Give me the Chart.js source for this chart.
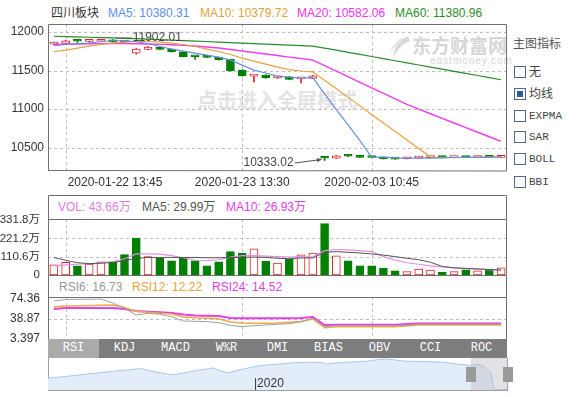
<!DOCTYPE html>
<html>
<head>
<meta charset="utf-8">
<title>四川板块</title>
<script src="https://cdn.jsdelivr.net/npm/chart.js@4.4.1/dist/chart.umd.min.js"></script>
<style>
  body { margin: 0; width: 577px; height: 397px; position: relative; overflow: hidden; background: #fff;
         font-family: "Liberation Sans", Arial, "Noto Sans CJK SC", sans-serif; font-size: 12px; color: #333; }
  .t { position: absolute; white-space: nowrap; line-height: 16px; }
  canvas { position: absolute; }
  .mono { font-family: "Liberation Mono", "Noto Sans CJK SC", monospace; font-size: 11px; }
  .wm { position: absolute; white-space: nowrap; color: #e3e3e3; font-weight: bold; font-family: "Noto Sans CJK SC", sans-serif; }
  #tabs { position: absolute; left: 48px; top: 339px; width: 459px; height: 19px; background: #7d7d7d; display: flex; }
  #tabs div { flex: 1; color: #fff; text-align: center; line-height: 19px; font-size: 12px; }
  #tabs div.on { background: #ababab; }
  .box { position: absolute; width: 10px; height: 10px; border: 1px solid #51688c; background: #fff; }
  .box.on::after { content: ""; position: absolute; left: 2px; top: 2px; width: 6px; height: 6px; background: #2e5a9c; }
</style>
</head>
<body>

<!-- WATERMARKS -->
<div class="wm" style="left:197px;top:88px;font-size:20px;line-height:24px;">点击进入全屏模式</div>
<svg style="position:absolute;left:388px;top:34px;" width="24" height="26" viewBox="0 0 24 26">
  <path d="M20 2 C 12 6, 6 13, 5 24 C 9 16, 14 10, 22 7 Z" fill="#d8d8d8"/>
  <path d="M14 4 C 8 8, 3 13, 2 20 C 5 14, 9 10, 16 6 Z" fill="#e2e2e2"/>
</svg>
<div class="wm" style="left:412px;top:34px;font-size:19px;line-height:22px;color:#d6d6d6;">东方财富网</div>
<div class="t" style="left:430px;top:53px;font-size:10px;color:#d4d4d4;letter-spacing:1px;">eastmoney.com</div>

<!-- LEGENDS -->
<div class="t" style="left:51px;top:5px;color:#333;">四川板块</div>
<div class="t" style="left:108px;top:5px;color:#5b8def;">MA5: 10380.31</div>
<div class="t" style="left:200px;top:5px;color:#e0a33a;">MA10: 10379.72</div>
<div class="t" style="left:297px;top:5px;color:#ee33ee;">MA20: 10582.06</div>
<div class="t" style="left:395px;top:5px;color:#2e8b2e;">MA60: 11380.96</div>

<div class="t" style="left:58px;top:199px;color:#e07be0;">VOL: 43.66万</div>
<div class="t" style="left:142px;top:199px;color:#555;">MA5: 29.99万</div>
<div class="t" style="left:226px;top:199px;color:#e040e0;">MA10: 26.93万</div>

<div class="t" style="left:59px;top:279px;color:#999;">RSI6: 16.73</div>
<div class="t" style="left:132px;top:279px;color:#e6a23c;">RSI12: 12.22</div>
<div class="t" style="left:212px;top:279px;color:#e040e0;">RSI24: 14.52</div>

<!-- SIDE PANEL -->
<div class="t" style="left:513px;top:36px;color:#555;">主图指标</div>
<div id="side"></div>

<!-- CANVASES -->
<canvas id="mainChart" width="510" height="195" style="left:0;top:0;"></canvas>
<canvas id="volChart" width="510" height="86" style="left:0;top:195px;"></canvas>
<canvas id="rsiChart" width="510" height="72" style="left:0;top:275px;"></canvas>

<div id="tabs" class="mono"></div>

<div style="position:absolute;left:48px;top:358px;width:460px;height:33px;box-sizing:border-box;border:1px solid #a0a0a0;border-top:none;"></div>
<canvas id="navChart" width="459" height="32" style="left:48px;top:358px;"></canvas>
<div style="position:absolute;left:471px;top:358px;width:36px;height:32px;background:rgba(190,190,200,0.45);"></div>
<div style="position:absolute;left:466px;top:367px;width:10px;height:15px;background:#9a9a9a;"></div>
<div style="position:absolute;left:503px;top:367px;width:10px;height:15px;background:#9a9a9a;"></div>
<div class="t" style="left:254px;top:375px;color:#333;">|2020</div>

<script>
// DATA

const times = [
  "2020-01-22 13:30", "2020-01-22 13:45", "2020-01-22 14:00", "2020-01-22 14:15", "2020-01-22 14:30",
  "2020-01-22 14:45", "2020-01-22 15:00", "2020-01-23 09:45", "2020-01-23 10:00", "2020-01-23 10:15",
  "2020-01-23 10:30", "2020-01-23 10:45", "2020-01-23 11:00", "2020-01-23 11:15", "2020-01-23 11:30",
  "2020-01-23 13:15", "2020-01-23 13:30", "2020-01-23 13:45", "2020-01-23 14:00", "2020-01-23 14:15",
  "2020-01-23 14:30", "2020-01-23 14:45", "2020-01-23 15:00", "2020-02-03 09:45", "2020-02-03 10:00",
  "2020-02-03 10:15", "2020-02-03 10:30", "2020-02-03 10:45", "2020-02-03 11:00", "2020-02-03 11:15",
  "2020-02-03 11:30", "2020-02-03 13:15", "2020-02-03 13:30", "2020-02-03 13:45", "2020-02-03 14:00",
  "2020-02-03 14:15", "2020-02-03 14:30", "2020-02-03 14:45", "2020-02-03 15:00"
];

const openP  = [11843, 11853, 11885, 11878, 11880, 11895, 11878, 11727, 11775, 11805, 11779, 11744, 11683, 11692, 11671, 11645, 11506, 11428, 11441, 11405, 11420, 11392, 11398, 10375, 10362, 10392, 10390, 10380, 10372, 10362, 10356, 10364, 10370, 10376, 10370, 10377, 10372, 10378, 10374];
const highP  = [11870, 11895, 11890, 11892, 11899, 11902.01, 11885, 11785, 11810, 11808, 11782, 11746, 11686, 11698, 11675, 11648, 11510, 11436, 11445, 11418, 11424, 11400, 11438, 10380, 10398, 10400, 10393, 10383, 10375, 10366, 10368, 10376, 10380, 10379, 10381, 10380, 10382, 10381, 10385];
const lowP   = [11835, 11848, 11865, 11868, 11876, 11868, 11862, 11712, 11770, 11770, 11740, 11676, 11645, 11668, 11636, 11490, 11428, 11352, 11400, 11398, 11380, 11340, 11395, 10333.02, 10358, 10384, 10370, 10368, 10352, 10348, 10353, 10360, 10366, 10366, 10367, 10368, 10369, 10370, 10371];
const closeP = [11858, 11887, 11880, 11884, 11896, 11872, 11870, 11779, 11805, 11775, 11744, 11680, 11679, 11671, 11640, 11497, 11432, 11434, 11406, 11412, 11386, 11398, 11432, 10362, 10394, 10388, 10374, 10372, 10356, 10352, 10364, 10372, 10376, 10370, 10377, 10372, 10378, 10374, 10381];

const ma5  = [11822, 11838, 11851, 11857, 11877, 11887, 11890, 11874, 11851, 11812, 11779, 11753, 11727, 11701, 11675, 11636, 11571, 11506, 11468, 11429, 11416, 11403, 11409, 11198, 10994, 10795, 10590, 10378, 10377, 10368, 10364, 10363, 10364, 10367, 10372, 10373, 10375, 10376, 10380.31];
const ma10 = [11744, 11766, 11792, 11818, 11838, 11857, 11870, 11877, 11877, 11870, 11857, 11838, 11812, 11779, 11747, 11708, 11662, 11623, 11584, 11545, 11513, 11494, 11484, 11373, 11263, 11152, 11042, 10931, 10820, 10710, 10599, 10489, 10378, 10372, 10373, 10372, 10374, 10376, 10379.72];
const ma20 = [11838, 11841, 11844, 11847, 11849, 11851, 11851, 11848, 11844, 11840, 11835, 11827, 11818, 11805, 11792, 11773, 11753, 11734, 11714, 11695, 11675, 11656, 11636, 11564, 11492, 11420, 11348, 11276, 11204, 11132, 11060, 11000, 10940, 10880, 10820, 10760, 10700, 10641, 10582.06];
const ma60 = [11945, 11941, 11937, 11932, 11928, 11923, 11918, 11913, 11907, 11901, 11895, 11889, 11883, 11877, 11870, 11863, 11857, 11850, 11843, 11836, 11829, 11823, 11818, 11791, 11764, 11736, 11709, 11682, 11654, 11627, 11600, 11572, 11545, 11518, 11490, 11463, 11436, 11408, 11380.96];

// volume in 万
const vol     = [61, 76, 55, 66, 80, 80, 123, 223, 111, 102, 86, 102, 86, 55, 80, 141, 131, 158, 82, 72, 96, 121, 133, 310, 115, 86, 55, 55, 41, 25, 20, 35, 29, 18, 20, 31, 25, 35, 43.66];
const volMa5  = [106, 89, 74, 69, 71, 76, 86, 101, 106, 106, 106, 106, 106, 104, 104, 106, 106, 108, 106, 101, 98, 103, 103, 137, 141, 137, 133, 127, 120, 111, 101, 92, 77, 52, 43, 40, 37, 33, 29.99];
const volMa10 = [55, 61, 65, 68, 74, 80, 98, 127, 127, 126, 117, 104, 89, 86, 92, 108, 117, 117, 114, 111, 108, 111, 108, 147, 154, 152, 147, 141, 111, 89, 74, 65, 55, 49, 43, 39, 35, 33, 26.93];

const rsi6  = [70.8, 73.5, 73.8, 73.9, 74.3, 67.3, 57.9, 46, 49, 47.2, 43, 35.3, 34.8, 34.1, 32.3, 27.7, 25.2, 27, 28.2, 29.5, 30.5, 34.1, 40.1, 25.2, 27, 27, 27, 27, 27, 27, 28, 29.5, 29.5, 29.5, 29.5, 29.5, 29.5, 29.5, 29.5];
const rsi12 = [60.7, 61.9, 62.5, 62.8, 63.2, 63.7, 59.3, 52.2, 50.8, 49, 47.7, 42.4, 41, 40.1, 39.4, 33.6, 31.8, 31.3, 31.3, 31.8, 33, 34.4, 38.9, 23.4, 25.2, 25.2, 25.2, 25.2, 25.2, 25.2, 26.5, 28.2, 28.2, 28.2, 28.2, 28.2, 28.2, 28.2, 28.2];
const rsi24 = [56.6, 58.4, 58.4, 58.4, 58.4, 58.4, 56.6, 53.1, 51.8, 50.8, 49.5, 46.9, 45.1, 44.6, 44.2, 40.7, 40.1, 40.1, 40.1, 40.1, 40.1, 40.7, 42.4, 28.2, 28.8, 28.8, 28.8, 28.8, 28.8, 28.8, 29.8, 30.9, 30.9, 30.9, 30.9, 30.9, 30.9, 30.9, 30.9];

const priceTicks = [10500, 11000, 11500, 12000];
const volTicks = [0, 110.6, 221.2, 331.8];
const rsiTicks = [3.397, 38.87, 74.36];
const dateIdx = [1, 16, 27];

// navigator history
const navX = [0, 2.4, 5.6, 8.8, 12, 15.2, 17.6, 20, 21.6, 24, 27.2, 29.6, 32, 34.4, 36, 37.6, 39.2, 40.8, 42.4, 45.6, 49.6, 53.6, 57.6, 60, 60.8, 61.6, 65.6, 69.6, 72, 73.6, 76, 77.6, 81.6, 85.6, 88, 89.6, 92, 93.6, 95.2, 96.4, 97.2, 100];
const navY = [38.5, 41.7, 46.9, 52.1, 57.3, 62.5, 65.6, 69.8, 64.6, 57.3, 49, 55.2, 62.5, 67.7, 71.9, 62.5, 55.2, 62.5, 67.7, 78.1, 83.3, 88.5, 90.6, 88.5, 83.3, 86.5, 90.6, 93.8, 99, 101, 96.9, 93.8, 92.7, 90.6, 86.5, 83.3, 80.2, 83.3, 76, 57.3, 2, 2];

const sideItems = ["无", "均线", "EXPMA", "SAR", "BOLL", "BBI"];
const tabNames = ["RSI", "KDJ", "MACD", "W%R", "DMI", "BIAS", "OBV", "CCI", "ROC"];

// STYLE

const RED = "#dd1f26";
const GREEN = "#008000";
const GRID = "#bdbdbd";
const FRAME = "#707070";
const FONT_FAMILY = '"Liberation Sans", Arial, "Noto Sans CJK SC", sans-serif';

Chart.defaults.font.family = FONT_FAMILY;
Chart.defaults.font.size = 12;
Chart.defaults.color = "#333";

// SIDE PANEL + TABS

const side = document.getElementById("side");
const rowCenters = [72, 94, 116, 137, 159, 182];
sideItems.forEach((name, i) => {
  const box = document.createElement("div");
  box.className = "box" + (name === "均线" ? " on" : "");
  box.style.left = "514px";
  box.style.top = (rowCenters[i] - 6) + "px";
  side.appendChild(box);
  const label = document.createElement("div");
  label.className = "t" + (/^[A-Z]+$/.test(name) ? " mono" : "");
  label.style.left = "529px";
  label.style.top = (rowCenters[i] - 8) + "px";
  label.style.color = "#444";
  label.textContent = name;
  side.appendChild(label);
});

const tabs = document.getElementById("tabs");
tabNames.forEach((name, i) => {
  const d = document.createElement("div");
  if (i === 0) d.className = "on";
  d.textContent = name;
  tabs.appendChild(d);
});

// HELPERS

const candleUp = closeP.map((c, i) => c >= openP[i]);
const volUp = closeP.map((c, i) => i === 0 || c >= closeP[i - 1]);

function fixTicks(list) {
  return scale => { scale.ticks = list.map(v => ({ value: v })); };
}

function xAxis(height) {
  return {
    type: "category",
    offset: true,
    afterFit: s => { s.height = height; s.paddingLeft = 0; s.paddingRight = 0; },
    ticks: { display: false },
    grid: { display: false, drawTicks: false },
    border: { display: false }
  };
}

function yAxis(min, max, list, pad, fmt, size) {
  return {
    min: min,
    max: max,
    afterBuildTicks: fixTicks(list),
    afterFit: s => { s.width = 48; s.paddingTop = 0; s.paddingBottom = 0; },
    ticks: { padding: pad, color: "#333", callback: fmt, font: { size: size } },
    grid: { display: false, drawTicks: false },
    border: { display: false }
  };
}

// dashed grid drawn behind the marks at chosen values / categories
function dashGrid(yValues) {
  return {
    id: "dashGrid",
    beforeDatasetsDraw(chart) {
      const { ctx, chartArea: a, scales } = chart;
      ctx.save();
      ctx.strokeStyle = GRID;
      ctx.lineWidth = 1;
      ctx.setLineDash([3, 3]);
      ctx.beginPath();
      yValues.forEach(v => {
        const y = Math.round(scales.y.getPixelForValue(v)) + 0.5;
        ctx.moveTo(a.left, y);
        ctx.lineTo(a.right, y);
      });
      dateIdx.forEach(i => {
        const x = Math.round(scales.x.getPixelForValue(i)) + 0.5;
        ctx.moveTo(x, a.top);
        ctx.lineTo(x, a.bottom);
      });
      ctx.stroke();
      ctx.restore();
    }
  };
}

function frame(top, bottom, sep, openBottom) {
  return {
    id: "frame",
    afterDraw(chart) {
      const { ctx, chartArea: a } = chart;
      const t = top === null ? a.top : top;
      const b = bottom === null ? a.bottom : bottom;
      ctx.save();
      ctx.strokeStyle = FRAME;
      ctx.lineWidth = 1;
      ctx.beginPath();
      ctx.moveTo(a.left + 0.5, b);
      ctx.lineTo(a.left + 0.5, t + 0.5);
      ctx.lineTo(a.right - 0.5, t + 0.5);
      ctx.lineTo(a.right - 0.5, b);
      if (!openBottom) ctx.lineTo(a.left + 0.5, b - 0.5);
      if (sep) {
        ctx.moveTo(a.left, a.top + 0.5);
        ctx.lineTo(a.right, a.top + 0.5);
      }
      ctx.stroke();
      ctx.restore();
    }
  };
}

const baseOptions = {
  responsive: false,
  maintainAspectRatio: false,
  animation: false,
  devicePixelRatio: 1,
  events: [],
  plugins: { legend: { display: false }, tooltip: { enabled: false } }
};

// MAIN CHART

const mainLabels = {
  id: "mainLabels",
  afterDraw(chart) {
    const { ctx, chartArea: a, scales } = chart;
    const xs = scales.x, ys = scales.y;
    ctx.save();
    ctx.font = "12px " + FONT_FAMILY;
    ctx.fillStyle = "#333";
    ctx.textBaseline = "middle";

    // date labels
    dateIdx.forEach(i => {
      const x = xs.getPixelForValue(i);
      const w = ctx.measureText(times[i]).width;
      ctx.textAlign = "left";
      const left = x - w / 2 < a.left ? x + 2 : x - w / 2;
      ctx.fillText(times[i], left, a.bottom + 12);
    });

    // highest / lowest markers
    ctx.fillStyle = "#444";
    ctx.strokeStyle = "#555";
    ctx.lineWidth = 1;
    const hi = highP.indexOf(Math.max(...highP));
    const lo = lowP.indexOf(Math.min(...lowP));

    let px = xs.getPixelForValue(hi);
    let py = ys.getPixelForValue(highP[hi]) - 1.5;
    ctx.beginPath();
    ctx.moveTo(px + 3, py);
    ctx.lineTo(px + 19, py);
    ctx.stroke();
    ctx.textAlign = "left";
    ctx.fillText(highP[hi].toFixed(2), px + 20, py);

    px = xs.getPixelForValue(lo);
    py = ys.getPixelForValue(lowP[lo]);
    const sx = px - 30, sy = py + 2.5;
    const ex = px - 3, ey = py - 1;
    ctx.beginPath();
    ctx.moveTo(sx, sy);
    ctx.lineTo(ex, ey);
    ctx.stroke();
    const ang = Math.atan2(ey - sy, ex - sx);
    ctx.beginPath();
    ctx.moveTo(ex, ey);
    ctx.lineTo(ex - 5 * Math.cos(ang - 0.45), ey - 5 * Math.sin(ang - 0.45));
    ctx.lineTo(ex - 5 * Math.cos(ang + 0.45), ey - 5 * Math.sin(ang + 0.45));
    ctx.closePath();
    ctx.fillStyle = "#555";
    ctx.fill();
    ctx.fillStyle = "#444";
    ctx.textAlign = "right";
    ctx.fillText(lowP[lo].toFixed(2), sx - 1, sy);
    ctx.restore();
  }
};

function maLine(data, color, width) {
  return { type: "line", data: data, borderColor: color, borderWidth: width, pointRadius: 0, tension: 0, order: 0 };
}

new Chart(document.getElementById("mainChart"), {
  type: "bar",
  data: {
    labels: times,
    datasets: [
      maLine(ma5, "#6b8fe0", 1.2),
      maLine(ma10, "#e6a23c", 1.2),
      maLine(ma20, "#f03cf0", 1.4),
      maLine(ma60, "#2a8a2a", 1.2),
      {
        type: "bar",
        data: openP.map((o, i) => [o, closeP[i]]),
        backgroundColor: candleUp.map(u => (u ? "#fff" : GREEN)),
        borderColor: candleUp.map(u => (u ? RED : GREEN)),
        borderWidth: 1,
        borderSkipped: false,
        barThickness: 8,
        minBarLength: 2,
        grouped: false,
        order: 1
      },
      {
        type: "bar",
        data: lowP.map((l, i) => [l, highP[i]]),
        backgroundColor: candleUp.map(u => (u ? RED : GREEN)),
        borderWidth: 0,
        barThickness: 1,
        grouped: false,
        order: 2
      }
    ]
  },
  options: {
    ...baseOptions,
    layout: { autoPadding: false, padding: { top: 24, right: 3, left: 0, bottom: 0 } },
    scales: {
      x: xAxis(24),
      y: yAxis(10197, 12104, priceTicks, 4, v => String(v), 12)
    }
  },
  plugins: [dashGrid(priceTicks), frame(null, null, false, false), mainLabels]
});

// VOLUME CHART

new Chart(document.getElementById("volChart"), {
  type: "bar",
  data: {
    labels: times,
    datasets: [
      { type: "line", data: volMa5, borderColor: "#555", borderWidth: 1, pointRadius: 0, order: 0 },
      { type: "line", data: volMa10, borderColor: "#e48ee4", borderWidth: 1.2, pointRadius: 0, order: 0 },
      {
        type: "bar",
        data: vol,
        backgroundColor: volUp.map(u => (u ? "#fff" : GREEN)),
        borderColor: volUp.map(u => (u ? RED : GREEN)),
        borderWidth: 1,
        borderSkipped: false,
        barThickness: 8,
        grouped: false,
        order: 1
      }
    ]
  },
  options: {
    ...baseOptions,
    layout: { autoPadding: false, padding: { top: 24, right: 3, left: 0, bottom: 6 } },
    scales: {
      x: xAxis(0),
      y: yAxis(0, 338, volTicks, 8, v => (v === 0 ? "0" : v.toFixed(1) + "万"), 11.5)
    }
  },
  plugins: [dashGrid(volTicks.slice(1, 3)), frame(0, 80, true, true)]
});

// RSI CHART

new Chart(document.getElementById("rsiChart"), {
  type: "line",
  data: {
    labels: times,
    datasets: [
      { data: rsi6, borderColor: "#a0a0a0", borderWidth: 1, pointRadius: 0 },
      { data: rsi12, borderColor: "#e8ae45", borderWidth: 1.5, pointRadius: 0 },
      { data: rsi24, borderColor: "#e83ee8", borderWidth: 2, pointRadius: 0 }
    ]
  },
  options: {
    ...baseOptions,
    layout: { autoPadding: false, padding: { top: 22, right: 3, left: 0, bottom: 8 } },
    scales: {
      x: xAxis(0),
      y: yAxis(3.397, 77.9, rsiTicks, 8, v => String(v), 12)
    }
  },
  plugins: [dashGrid([rsiTicks[1]]), frame(0, 64, true, true)]
});

// NAVIGATOR

new Chart(document.getElementById("navChart"), {
  type: "line",
  data: {
    datasets: [{
      data: navX.map((x, i) => ({ x: x, y: navY[i] })),
      borderColor: "#a9c5ea",
      backgroundColor: "#e3edf9",
      borderWidth: 1,
      pointRadius: 0,
      fill: "origin"
    }]
  },
  options: {
    ...baseOptions,
    layout: { autoPadding: false, padding: 0 },
    scales: {
      x: { type: "linear", min: 0, max: 100, display: false },
      y: { min: 0, max: 104, display: false }
    }
  }
});
</script>
</body>
</html>
